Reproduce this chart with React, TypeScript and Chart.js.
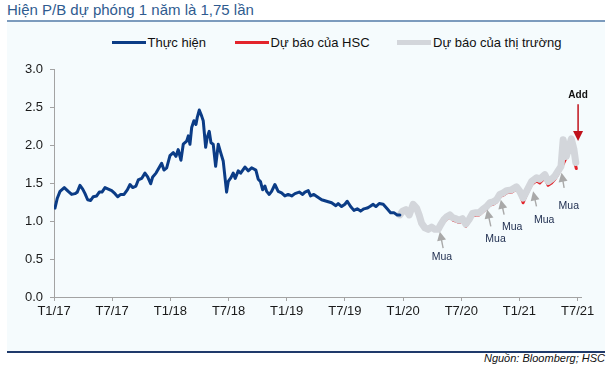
import React, { useEffect, useRef } from 'react';
import { Chart, registerables } from 'chart.js';

Chart.register(...registerables);

const FONT = '"Liberation Sans", Arial, Helvetica, sans-serif';

// x axis: months since Jan 2017
const xTickMonths = [0, 6, 12, 18, 24, 30, 36, 42, 48, 54];
const xTickLabels = ['T1/17', 'T7/17', 'T1/18', 'T7/18', 'T1/19', 'T7/19', 'T1/20', 'T7/20', 'T1/21', 'T7/21'];
const yTickValues = [0, 0.5, 1, 1.5, 2, 2.5, 3];

const seriesLabels = ['Thực hiện', 'Dự báo của HSC', 'Dự báo của thị trường'];

// Thực hiện (actual P/B)
const actualMonths = [
  0.1, 0.34, 0.62, 1.06, 1.47, 1.82, 2.16, 2.4, 2.68, 2.96, 3.2, 3.47, 3.78, 4.05, 4.4, 4.67, 4.95, 5.26, 5.6, 5.95,
  6.29, 6.57, 6.88, 7.22, 7.56, 7.84, 8.11, 8.45, 8.69, 9.04, 9.38, 9.66, 9.97, 10.18, 10.52, 10.79, 11.1, 11.34, 11.62, 11.96,
  12.3, 12.58, 12.81, 13.09, 13.33, 13.68, 13.85, 14.02, 14.2, 14.43, 14.64, 14.77, 14.98, 15.23, 15.39, 15.64, 15.8, 16.01, 16.19, 16.42,
  16.67, 16.94, 17.19, 17.45, 17.8, 17.97, 18.25, 18.48, 18.69, 19.0, 19.25, 19.69, 20.03, 20.38, 20.82, 21.06, 21.29, 21.52, 21.75, 21.93,
  22.2, 22.44, 22.78, 23.12, 23.47, 23.81, 24.15, 24.51, 24.85, 25.29, 25.64, 25.88, 26.22, 26.46, 26.8, 27.14, 27.6, 28.11, 28.63, 29.07,
  29.31, 29.66, 30.0, 30.24, 30.59, 30.93, 31.27, 31.62, 31.96, 32.3, 32.58, 32.92, 33.2, 33.54, 33.95, 34.36, 34.71, 35.05, 35.39, 35.67,
];
const actualValues = [
  1.17, 1.3, 1.39, 1.44, 1.39, 1.35, 1.36, 1.38, 1.47, 1.42, 1.36, 1.28, 1.27, 1.32, 1.33, 1.38, 1.38, 1.44, 1.42, 1.4,
  1.36, 1.32, 1.35, 1.35, 1.41, 1.48, 1.44, 1.46, 1.54, 1.56, 1.63, 1.58, 1.49, 1.58, 1.63, 1.69, 1.76, 1.67, 1.7, 1.86,
  1.9, 1.85, 1.94, 1.8, 2.01, 2.05, 2.12, 2.01, 2.23, 2.32, 2.27, 2.36, 2.46, 2.38, 2.32, 1.97, 2.1, 2.18, 2.03, 2.01,
  1.72, 2.01, 1.9, 1.79, 1.38, 1.52, 1.57, 1.63, 1.56, 1.66, 1.63, 1.71, 1.66, 1.7, 1.67, 1.55, 1.52, 1.41, 1.46, 1.39,
  1.35, 1.39, 1.48, 1.39, 1.37, 1.33, 1.35, 1.33, 1.36, 1.38, 1.35, 1.38, 1.4, 1.33, 1.35, 1.32, 1.28, 1.26, 1.24, 1.2,
  1.23, 1.19, 1.22, 1.26, 1.19, 1.14, 1.16, 1.13, 1.16, 1.17, 1.19, 1.22, 1.19, 1.23, 1.22, 1.16, 1.11, 1.11, 1.08, 1.08,
];

// Dự báo của thị trường (market forecast)
const marketMonths = [
  35.67, 35.95, 36.29, 36.63, 37.04, 37.39, 37.66, 37.91, 38.25, 38.59, 38.94, 39.28, 39.62, 39.87, 40.21, 40.55, 40.82, 41.16, 41.44, 41.78,
  42.13, 42.47, 42.81, 43.16, 43.51, 43.85, 44.2, 44.61, 44.95, 45.29, 45.64, 45.98, 46.32, 46.67, 47.19, 47.7, 48.04, 48.38, 48.73, 49.25,
  49.76, 50.1, 50.62, 50.96, 51.31, 51.65, 51.99, 52.29, 52.51, 52.84, 53.35, 53.61, 53.81,
];
const marketValues = [
  1.08, 1.13, 1.15, 1.08, 1.22, 1.17, 1.08, 0.97, 0.91, 0.89, 0.92, 0.89, 0.89, 0.95, 1.02, 1.06, 1.08, 1.04, 1.03, 1.01,
  1.03, 0.96, 1.02, 1.1, 1.11, 1.11, 1.15, 1.19, 1.24, 1.25, 1.28, 1.35, 1.37, 1.4, 1.41, 1.45, 1.39, 1.3, 1.39, 1.52,
  1.57, 1.55, 1.61, 1.52, 1.55, 1.59, 1.66, 1.72, 2.07, 1.85, 2.08, 1.95, 1.77,
];

// Dự báo của HSC
const hscMonths = [
  39.87, 40.21, 40.55, 40.82, 41.16, 41.44, 41.78, 42.13, 42.47, 42.81, 43.16, 43.51, 43.85, 44.2, 44.61, 44.95, 45.29, 45.64, 45.98, 46.32,
  46.67, 47.19, 47.7, 48.04, 48.38, 48.73, 49.25, 49.76, 50.1, 50.62, 50.96, 51.31, 51.65, 51.99, 52.29, 52.78, 53.2, 53.47, 53.71, 53.87,
];
const hscValues = [
  0.92, 0.99, 1.03, 1.05, 1.01, 1.0, 0.98, 1.0, 0.93, 0.99, 1.07, 1.08, 1.08, 1.12, 1.16, 1.21, 1.22, 1.25, 1.32, 1.34,
  1.37, 1.38, 1.42, 1.36, 1.24, 1.35, 1.48, 1.53, 1.5, 1.57, 1.47, 1.5, 1.55, 1.62, 1.69, 1.82, 1.94, 1.99, 1.77, 1.69,
];

// "Mua" (buy) signals: arrow head, arrow tail, label (month, P/B)
const buyHeadMonths = [39.79, 44.67, 46.08, 49.41, 52.34];
const buyHeadValues = [0.86, 1.15, 1.28, 1.39, 1.635];
const buyTailMonths = [40.13, 45.05, 46.42, 49.76, 52.61];
const buyTailValues = [0.644, 0.929, 1.084, 1.193, 1.437];
const buyLabelMonths = [40.0, 45.54, 47.25, 50.55, 53.09];
const buyLabelValues = [0.529, 0.76, 0.925, 1.018, 1.193];
const buyLabel = 'Mua';

// "Add" signal
const addHeadMonth = 54.05;
const addHeadValue = 2.052;
const addTailValue = 2.537;
const addLabelValue = 2.656;
const addLabel = 'Add';

const COLORS = {
  actual: '#0b3c86',
  hsc: '#e3242b',
  market: '#d3d6db',
  axis: '#a3a3a3',
  buyArrow: '#a9a9a9',
  buyText: '#1c2b4d',
  addArrow: '#c0121c',
};

const toPoints = (xs: number[], ys: number[]) => xs.map((x, i) => ({ x, y: ys[i] }));

function drawArrow(
  ctx: CanvasRenderingContext2D,
  x1: number, y1: number, x2: number, y2: number,
  color: string, width: number, headLen: number, headWidth: number,
) {
  const ang = Math.atan2(y2 - y1, x2 - x1);
  const c = Math.cos(ang);
  const s = Math.sin(ang);
  ctx.save();
  ctx.strokeStyle = color;
  ctx.fillStyle = color;
  ctx.lineWidth = width;
  ctx.beginPath();
  ctx.moveTo(x1, y1);
  ctx.lineTo(x2 - c * headLen * 0.8, y2 - s * headLen * 0.8);
  ctx.stroke();
  ctx.beginPath();
  ctx.moveTo(x2, y2);
  ctx.lineTo(x2 - headLen * c + (headWidth / 2) * s, y2 - headLen * s - (headWidth / 2) * c);
  ctx.lineTo(x2 - headLen * c - (headWidth / 2) * s, y2 - headLen * s + (headWidth / 2) * c);
  ctx.closePath();
  ctx.fill();
  ctx.restore();
}

const annotationPlugin = {
  id: 'signals',
  afterDatasetsDraw(chart: any) {
    const { ctx } = chart;
    const xs = chart.scales.x;
    const ys = chart.scales.y;
    for (let i = 0; i < buyHeadMonths.length; i++) {
      drawArrow(
        ctx,
        xs.getPixelForValue(buyTailMonths[i]), ys.getPixelForValue(buyTailValues[i]),
        xs.getPixelForValue(buyHeadMonths[i]), ys.getPixelForValue(buyHeadValues[i]),
        COLORS.buyArrow, 1.4, 9, 9,
      );
      ctx.save();
      ctx.fillStyle = COLORS.buyText;
      ctx.font = `10.5px ${FONT}`;
      ctx.textAlign = 'center';
      ctx.textBaseline = 'middle';
      ctx.fillText(buyLabel, xs.getPixelForValue(buyLabelMonths[i]), ys.getPixelForValue(buyLabelValues[i]));
      ctx.restore();
    }
    const ax = xs.getPixelForValue(addHeadMonth);
    drawArrow(ctx, ax, ys.getPixelForValue(addTailValue), ax, ys.getPixelForValue(addHeadValue), COLORS.addArrow, 1.5, 10, 10);
    ctx.save();
    ctx.fillStyle = '#111';
    ctx.font = `bold 10px ${FONT}`;
    ctx.textAlign = 'center';
    ctx.textBaseline = 'middle';
    ctx.fillText(addLabel, ax, ys.getPixelForValue(addLabelValue));
    ctx.restore();
  },
};

export default function App() {
  const ref = useRef<HTMLCanvasElement>(null);

  useEffect(() => {
    const canvas = ref.current;
    if (!canvas) return;
    const lineCommon = {
      pointRadius: 0,
      tension: 0,
      borderJoinStyle: 'round' as const,
      borderCapStyle: 'round' as const,
    };
    const chart = new Chart(canvas, {
      type: 'line',
      data: {
        datasets: [
          {
            ...lineCommon,
            label: seriesLabels[0],
            data: toPoints(actualMonths, actualValues),
            borderColor: COLORS.actual,
            backgroundColor: COLORS.actual,
            borderWidth: 3,
            order: 0,
          },
          {
            ...lineCommon,
            label: seriesLabels[1],
            data: toPoints(hscMonths, hscValues),
            borderColor: COLORS.hsc,
            backgroundColor: COLORS.hsc,
            borderWidth: 3,
            order: 2,
          },
          {
            ...lineCommon,
            label: seriesLabels[2],
            data: toPoints(marketMonths, marketValues),
            borderColor: COLORS.market,
            backgroundColor: COLORS.market,
            borderWidth: 7,
            order: 1,
          },
        ],
      },
      options: {
        responsive: false,
        animation: false,
        layout: { padding: { left: 0, right: 35, top: 69, bottom: 0 } },
        plugins: {
          legend: { display: false },
          tooltip: { enabled: false },
        },
        scales: {
          x: {
            type: 'linear',
            min: 0,
            max: 54.35,
            afterBuildTicks: (s: any) => {
              s.ticks = xTickMonths.map((value) => ({ value }));
            },
            afterFit: (s: any) => {
              s.height = 70;
            },
            grid: { drawOnChartArea: false, drawTicks: true, tickLength: 4, color: COLORS.axis, lineWidth: 1 },
            border: { display: true, color: COLORS.axis, width: 1 },
            ticks: {
              autoSkip: false,
              maxRotation: 0,
              padding: 3,
              color: '#1a1a1a',
              font: { family: FONT, size: 13 },
              callback: (v: any) => {
                const i = xTickMonths.indexOf(Number(v));
                return i >= 0 ? xTickLabels[i] : '';
              },
            },
          },
          y: {
            type: 'linear',
            min: 0,
            max: 3,
            afterBuildTicks: (s: any) => {
              s.ticks = yTickValues.map((value) => ({ value }));
            },
            afterFit: (s: any) => {
              s.width = 54;
            },
            grid: { drawOnChartArea: false, drawTicks: true, tickLength: 4, color: COLORS.axis, lineWidth: 1 },
            border: { display: true, color: COLORS.axis, width: 1 },
            ticks: {
              padding: 7,
              color: '#1a1a1a',
              font: { family: FONT, size: 13 },
              callback: (v: any) => Number(v).toFixed(1),
            },
          },
        },
      },
      plugins: [annotationPlugin],
    });
    return () => chart.destroy();
  }, []);

  const legendItems = [
    { label: seriesLabels[0], color: COLORS.actual, lineLeft: 112, textLeft: 147.5, thick: 3 },
    { label: seriesLabels[1], color: COLORS.hsc, lineLeft: 235, textLeft: 270.5, thick: 3 },
    { label: seriesLabels[2], color: COLORS.market, lineLeft: 397, textLeft: 433, thick: 5 },
  ];

  return (
    <div
      style={{
        position: 'fixed',
        left: 0,
        top: 0,
        width: 616,
        height: 367,
        background: '#ffffff',
        fontFamily: FONT,
        overflow: 'hidden',
      }}
    >
      <div
        style={{
          position: 'absolute',
          left: 7,
          top: 1,
          fontSize: 15,
          lineHeight: '17px',
          color: '#2f5b8f',
          whiteSpace: 'nowrap',
        }}
      >
        Hiện P/B dự phóng 1 năm là 1,75 lần
      </div>
      <div style={{ position: 'absolute', left: 7, top: 20, width: 598, height: 2, background: '#7c9bbd' }} />
      <div style={{ position: 'absolute', left: 7, top: 22, width: 598, height: 329, background: '#f5fbfd' }} />
      <div style={{ position: 'absolute', left: 7, top: 351, width: 598, height: 1.5, background: '#1f3a6b' }} />
      <div
        style={{
          position: 'absolute',
          right: 11,
          top: 352,
          fontSize: 11,
          lineHeight: '13px',
          fontStyle: 'italic',
          color: '#111',
          whiteSpace: 'nowrap',
        }}
      >
        Nguồn: Bloomberg; HSC
      </div>
      {legendItems.map((it) => (
        <React.Fragment key={it.label}>
          <div
            style={{
              position: 'absolute',
              left: it.lineLeft,
              top: 42.7 - it.thick / 2,
              width: 34,
              height: it.thick,
              background: it.color,
            }}
          />
          <div
            style={{
              position: 'absolute',
              left: it.textLeft,
              top: 34.7,
              fontSize: 13,
              lineHeight: '15px',
              color: '#111',
              whiteSpace: 'nowrap',
            }}
          >
            {it.label}
          </div>
        </React.Fragment>
      ))}
      <canvas ref={ref} width={616} height={367} style={{ position: 'absolute', left: 0, top: 0 }} />
    </div>
  );
}
